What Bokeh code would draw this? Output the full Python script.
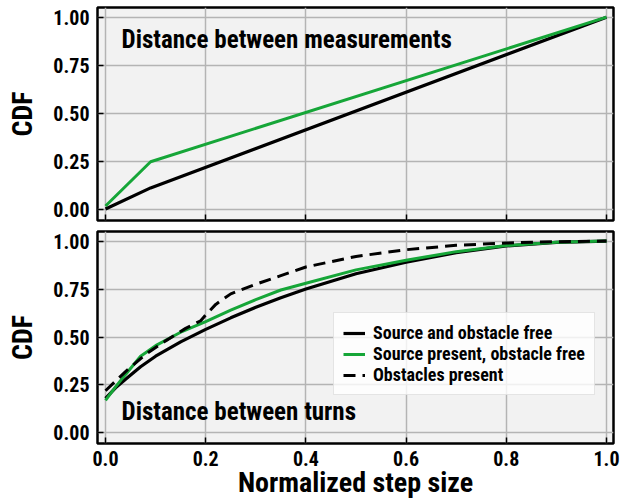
from bokeh.plotting import figure
from bokeh.layouts import column
from bokeh.models import Label, Legend, LegendItem, FixedTicker
from bokeh.embed import file_html
from bokeh.resources import INLINE

# ---- data ----
meas_x = [0.0, 0.09, 1.0]
meas_free = [0.005, 0.114, 1.0]
meas_source = [0.02, 0.25, 1.0]

turn_x = [0.0, 0.02, 0.04, 0.07, 0.1, 0.15, 0.2, 0.25, 0.3, 0.35, 0.4, 0.5, 0.6, 0.7, 0.8, 0.9, 1.0]
turn_free = [0.18, 0.235, 0.28, 0.345, 0.40, 0.475, 0.54, 0.60, 0.655, 0.705, 0.75, 0.83, 0.89, 0.94, 0.975, 0.993, 1.0]
turn_source = [0.17, 0.24, 0.305, 0.40, 0.455, 0.525, 0.58, 0.64, 0.695, 0.745, 0.78, 0.85, 0.90, 0.945, 0.977, 0.994, 1.0]
obst_x = [0.0, 0.04, 0.08, 0.12, 0.16, 0.19, 0.2, 0.22, 0.25, 0.3, 0.35, 0.4, 0.5, 0.6, 0.7, 0.8, 0.9, 1.0]
turn_obst = [0.22, 0.32, 0.41, 0.48, 0.545, 0.585, 0.615, 0.67, 0.725, 0.775, 0.82, 0.865, 0.92, 0.955, 0.978, 0.99, 0.997, 1.0]

x_ticks = [0.0, 0.2, 0.4, 0.6, 0.8, 1.0]
y_ticks = [0.0, 0.25, 0.5, 0.75, 1.0]
x_tick_labels = {0.0: "0.0", 0.2: "0.2", 0.4: "0.4", 0.6: "0.6", 0.8: "0.8", 1.0: "1.0"}
y_tick_labels = {0.0: "0.00", 0.25: "0.25", 0.5: "0.50", 0.75: "0.75", 1.0: "1.00"}

FONT = "'Liberation Sans Narrow', 'Roboto Condensed', 'Noto Sans Condensed', Roboto, sans-serif"
GREEN = "#16a638"
BG = "#f2f2f2"
GRID = "#b4b4b4"


def make_fig(height, border_top, border_bottom, show_xlabels):
    p = figure(width=626, height=height, output_backend="svg", toolbar_location=None,
               x_range=(-0.016, 1.014), y_range=(-0.055, 1.05),
               min_border_left=97, min_border_right=13,
               min_border_top=border_top, min_border_bottom=border_bottom)
    p.background_fill_color = BG
    p.border_fill_color = "white"
    p.outline_line_color = "black"
    p.outline_line_width = 2.5
    for ax in (p.xaxis, p.yaxis):
        ax.axis_line_color = None
        ax.major_tick_in = 6
        ax.major_tick_out = 0
        ax.major_tick_line_color = "black"
        ax.major_tick_line_width = 1.5
        ax.minor_tick_line_color = None
        ax.major_label_text_font = FONT
        ax.major_label_text_font_style = "bold"
        ax.major_label_text_font_size = "20px"
        ax.major_label_text_color = "black"
        ax.axis_label_text_font = FONT
        ax.axis_label_text_font_style = "bold"
        ax.axis_label_text_font_size = "28px"
        ax.axis_label_text_color = "black"
    p.xaxis.ticker = FixedTicker(ticks=x_ticks)
    p.yaxis.ticker = FixedTicker(ticks=y_ticks)
    p.xaxis.major_label_overrides = x_tick_labels
    p.yaxis.major_label_overrides = y_tick_labels
    p.yaxis.major_label_standoff = 8
    p.yaxis.axis_label = "CDF"
    p.yaxis.axis_label_standoff = 11
    if show_xlabels:
        p.xaxis.axis_label = "Normalized step size"
        p.xaxis.axis_label_text_font_size = "28px"
        p.xaxis.major_label_standoff = 7
        p.xaxis.axis_label_standoff = -3
    else:
        p.xaxis.major_label_text_font_size = "1px"
        p.xaxis.major_label_text_color = None
        p.xaxis.major_label_standoff = 0
    p.xgrid.ticker = FixedTicker(ticks=x_ticks)
    p.ygrid.ticker = FixedTicker(ticks=y_ticks)
    for g in (p.xgrid, p.ygrid):
        g.grid_line_color = GRID
        g.grid_line_width = 1.5
    return p


# ---- top panel ----
p1 = make_fig(226, 7, 6, False)
p1.line(meas_x, meas_free, line_color="black", line_width=3.2)
p1.line(meas_x, meas_source, line_color=GREEN, line_width=3)
p1.add_layout(Label(x=0.032, y=0.885, text="Distance between measurements",
                    text_font=FONT, text_font_style="bold", text_font_size="25px",
                    text_color="black", text_baseline="alphabetic"))

# ---- bottom panel ----
p2 = make_fig(276, 5, 59, True)
r_free = p2.line(turn_x, turn_free, line_color="black", line_width=3.2)
r_src = p2.line(turn_x, turn_source, line_color=GREEN, line_width=3)
r_obs = p2.line(obst_x, turn_obst, line_color="black", line_width=3, line_dash="12 7")
p2.add_layout(Label(x=0.032, y=0.11, text="Distance between turns",
                    text_font=FONT, text_font_style="bold", text_font_size="25px",
                    text_color="black", text_baseline="alphabetic"))

legend = Legend(items=[
    LegendItem(label="Source and obstacle free", renderers=[r_free]),
    LegendItem(label="Source present, obstacle free", renderers=[r_src]),
    LegendItem(label="Obstacles present", renderers=[r_obs]),
], location=(236, 48))
legend.label_text_font = FONT
legend.label_text_font_style = "bold"
legend.label_text_font_size = "18px"
legend.label_text_color = "black"
legend.glyph_width = 22
legend.glyph_height = 18
legend.label_height = 18
legend.spacing = 0
legend.padding = 9
legend.margin = 0
legend.label_standoff = 8
legend.background_fill_color = "white"
legend.background_fill_alpha = 0.8
legend.border_line_color = "#cccccc"
legend.border_line_width = 1.5
p2.add_layout(legend, "center")

layout = column(p1, p2, spacing=0)
open("out.html", "w").write(file_html(layout, INLINE))
